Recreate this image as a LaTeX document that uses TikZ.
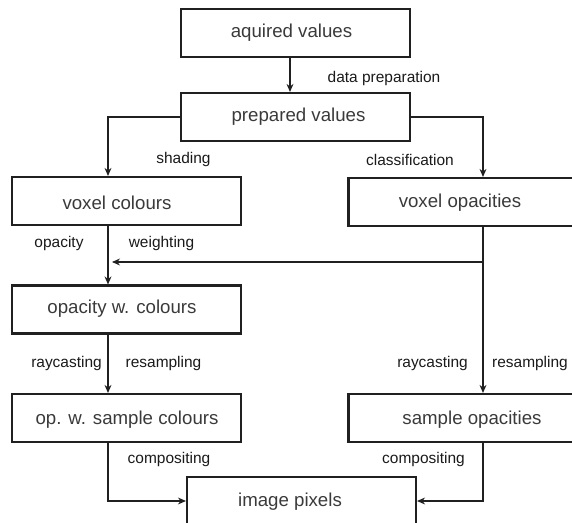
\documentclass[tikz,border=0pt]{standalone}
\usepackage{fontspec}
\setmainfont{Liberation Sans}
\usetikzlibrary{arrows.meta}
\definecolor{boxtext}{HTML}{3A3A3A}
\definecolor{lbltext}{HTML}{1A1A1A}
\definecolor{linecol}{HTML}{202020}
\tikzset{
  box/.style={draw=linecol, line width=1.6pt, minimum width=171.75pt, minimum height=36pt, inner sep=0pt},
  boxlbl/.style={text=boxtext, font=\fontsize{14}{16}\selectfont, inner sep=0pt},
  edgelbl/.style={text=lbltext, font=\fontsize{11.6}{13}\selectfont, inner sep=0pt},
  arr/.style={draw=linecol, line width=0.8pt, -{Stealth[length=6pt,width=5.2pt]}},
}
\begin{document}
\begin{tikzpicture}[x=0.75pt, y=-0.75pt]
\useasboundingbox (0,0) rectangle (572,523);
\clip (0,0) rectangle (572,523);
% column coordinates
\coordinate (colA) at (290,0);
\coordinate (colL) at (108,0);
\coordinate (colR) at (483,0);
\coordinate (wy) at (0,262);
% boxes
\node[box] (aq) at (295.5,33) {};
\node[box] (prep) at (295.5,117) {};
\node[box] (vc) at (126.5,201) {};
\node[box] (vo) at (463,202) {};
\node[box] (owc) at (126.5,309.5) {};
\node[box] (owsc) at (126.5,418) {};
\node[box] (so) at (463,418) {};
\node[box] (ip) at (301.5,501) {};
% box texts
\node[boxlbl] (taq) at (291.5,33) {aquired values};
\node[boxlbl] (tprep) at (298.5,117) {prepared values};
\node[boxlbl] (tvc) at (117,203) {voxel colours};
\node[boxlbl] (tvo) at (460,203) {voxel opacities};
\node[boxlbl] (towc) at (122,309) {opacity w. colours};
\node[boxlbl] (towsc) at (127,420) {op. w. sample colours};
\node[boxlbl] (tso) at (472,420) {sample opacities};
\node[boxlbl] (tip) at (290,502) {image pixels};
% connectors
\draw[arr] (aq.south -| colA) -- (prep.north -| colA);
\draw[arr] (prep.west) -| (vc.north -| colL);
\draw[arr] (prep.east) -| (vo.north -| colR);
\draw[arr] (vc.south -| colL) -- (owc.north -| colL);
\draw[draw=linecol, line width=0.8pt] (vo.south -| colR) -- (wy -| colR);
\draw[arr] (wy -| colR) -- (so.north -| colR);
\draw[arr, shorten >=3pt] (wy -| colR) -- (wy -| colL);
\draw[arr] (owc.south -| colL) -- (owsc.north -| colL);
\draw[arr] (owsc.south -| colL) |- (ip.west);
\draw[arr] (so.south -| colR) |- (ip.east);
% edge labels
\node[edgelbl] (ldp) at (384,79) {data preparation};
\node[edgelbl] (lsh) at (183.5,160) {shading};
\node[edgelbl] (lcl) at (410,160) {classification};
\node[edgelbl] (lop) at (59,244) {opacity};
\node[edgelbl] (lwe) at (161.5,244) {weighting};
\node[edgelbl] (lrc1) at (66.5,364) {raycasting};
\node[edgelbl] (lrs1) at (163.5,364) {resampling};
\node[edgelbl] (lrc2) at (432.5,364) {raycasting};
\node[edgelbl] (lrs2) at (530,364) {resampling};
\node[edgelbl] (lco1) at (169,460) {compositing};
\node[edgelbl] (lco2) at (423.5,460) {compositing};
\end{tikzpicture}
\end{document}
